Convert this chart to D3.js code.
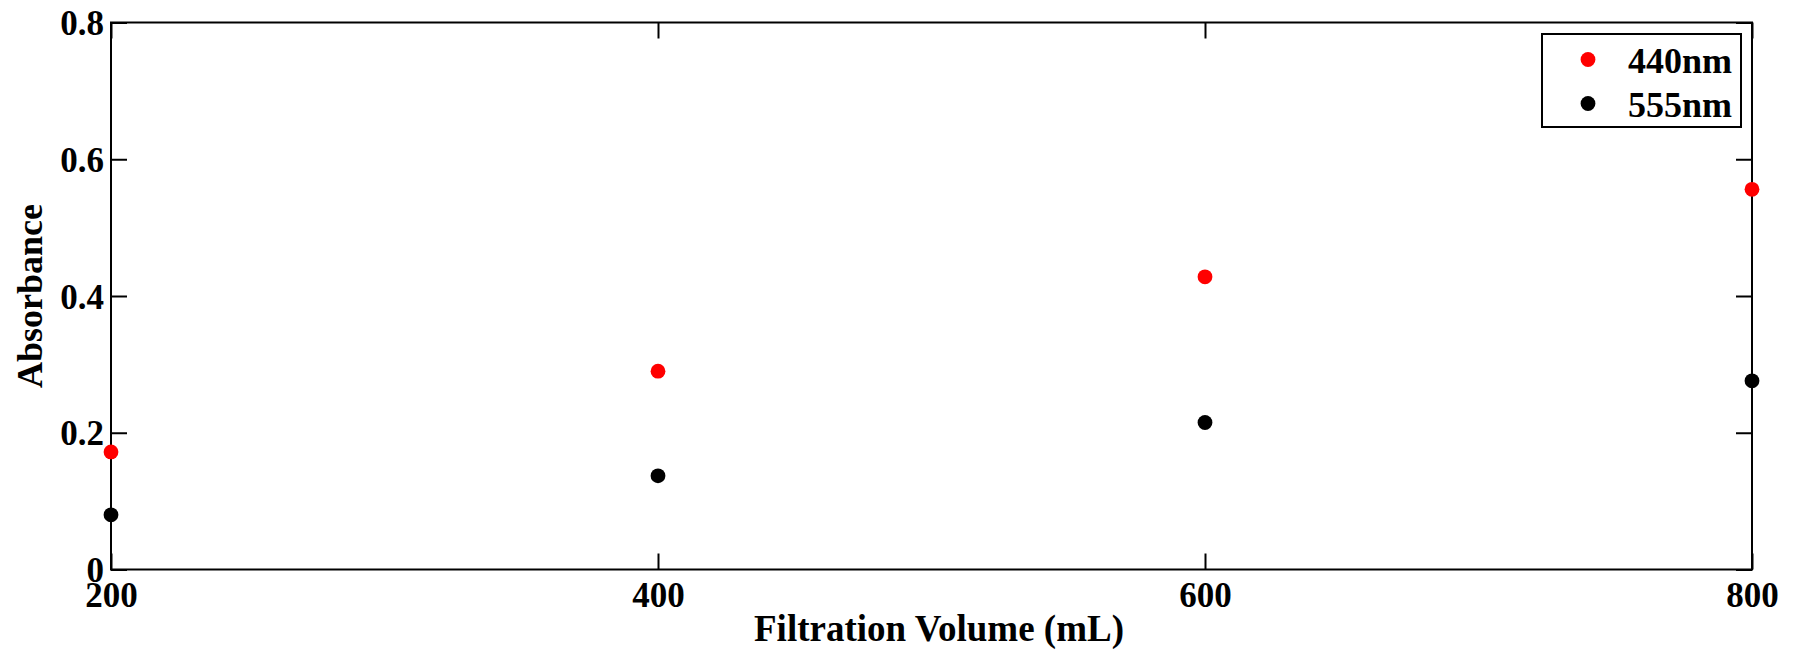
<!DOCTYPE html>
<html>
<head>
<meta charset="utf-8">
<script src="https://cdn.jsdelivr.net/npm/d3@7"></script>
<style>
  html, body { margin: 0; padding: 0; background: #fff; }
  svg { display: block; }
  text { font-family: "Liberation Serif", "Times New Roman", serif; font-weight: bold; fill: #000; }
</style>
</head>
<body>
<svg id="chart" width="1799" height="653"></svg>
<script>
// Filtration volume (mL) and absorbance readings at two wavelengths
const volumes = [200, 400, 600, 800];
const abs440 = [0.172, 0.290, 0.428, 0.556];
const abs555 = [0.080, 0.137, 0.215, 0.276];
const seriesNames = ["440nm", "555nm"];
const seriesColors = ["#ff0000", "#000000"];
const xTicks = [200, 400, 600, 800];
const yTicks = [0, 0.2, 0.4, 0.6, 0.8];

const svg = d3.select("#chart");
const margin = { left: 111, right: 1752, top: 22.5, bottom: 569.5 };

const x = d3.scaleLinear().domain([200, 800]).range([margin.left, margin.right]);
const y = d3.scaleLinear().domain([0, 0.8]).range([margin.bottom, margin.top]);

const tickLen = 16;

// Inward ticks on all four sides
const axisLeft = d3.axisLeft(y).tickValues(yTicks).tickSize(-tickLen).tickFormat(d => d === 0 ? "0" : d3.format(".1f")(d));
const axisRight = d3.axisRight(y).tickValues(yTicks).tickSize(-tickLen).tickFormat("");
const axisBottom = d3.axisBottom(x).tickValues(xTicks).tickSize(-tickLen).tickFormat(d3.format("d"));
const axisTop = d3.axisTop(x).tickValues(xTicks).tickSize(-tickLen).tickFormat("");

function styleAxis(g) {
  g.select(".domain").remove();
  g.selectAll(".tick line").attr("stroke", "#000").attr("stroke-width", 2);
}

svg.append("g").attr("transform", `translate(${margin.left},0)`).call(axisLeft).call(styleAxis)
  .call(g => g.selectAll(".tick text")
    .attr("x", -7).attr("dy", null).attr("y", 12)
    .style("font-size", "35px").attr("text-anchor", "end"));

svg.append("g").attr("transform", `translate(${margin.right},0)`).call(axisRight).call(styleAxis);

svg.append("g").attr("transform", `translate(0,${margin.bottom})`).call(axisBottom).call(styleAxis)
  .call(g => g.selectAll(".tick text")
    .attr("y", 37).attr("dy", null)
    .style("font-size", "35px").attr("text-anchor", "middle"));

svg.append("g").attr("transform", `translate(0,${margin.top})`).call(axisTop).call(styleAxis);

// Plot frame
svg.append("rect")
  .attr("x", margin.left).attr("y", margin.top)
  .attr("width", margin.right - margin.left).attr("height", margin.bottom - margin.top)
  .attr("fill", "none").attr("stroke", "#000").attr("stroke-width", 2);

// Data points
const series = [abs440, abs555];
series.forEach((vals, i) => {
  svg.append("g").selectAll("circle")
    .data(volumes.map((v, j) => ({ v, a: vals[j] })))
    .join("circle")
    .attr("cx", d => x(d.v))
    .attr("cy", d => y(d.a))
    .attr("r", 7.4)
    .attr("fill", seriesColors[i]);
});

// Axis titles
svg.append("text")
  .attr("x", 939).attr("y", 641)
  .attr("text-anchor", "middle")
  .style("font-size", "37px")
  .text("Filtration Volume (mL)");

svg.append("text")
  .attr("transform", "translate(42,296) rotate(-90)")
  .attr("text-anchor", "middle")
  .style("font-size", "36px")
  .text("Absorbance");

// Legend
const legend = svg.append("g");
legend.append("rect")
  .attr("x", 1542).attr("y", 34)
  .attr("width", 199).attr("height", 93)
  .attr("fill", "#fff").attr("stroke", "#000").attr("stroke-width", 2);

seriesNames.forEach((name, i) => {
  const cy = 59.5 + i * 44;
  legend.append("circle").attr("cx", 1588).attr("cy", cy).attr("r", 7.4).attr("fill", seriesColors[i]);
  legend.append("text").attr("x", 1628).attr("y", cy + 13)
    .style("font-size", "36px").text(name);
});
</script>
</body>
</html>
